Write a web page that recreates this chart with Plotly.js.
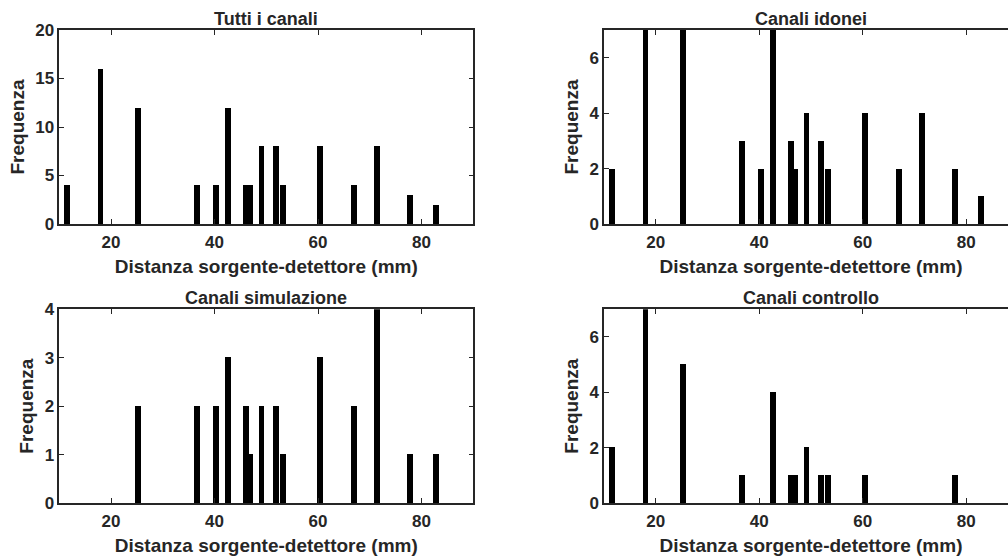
<!DOCTYPE html>
<html>
<head>
<meta charset="utf-8">
<script src="https://cdn.plot.ly/plotly-3.0.1.min.js"></script>
<style>
html, body { margin: 0; padding: 0; background: #fff; overflow: hidden; width: 1008px; height: 560px; }
#chart { width: 1030px; height: 560px; }
</style>
</head>
<body>
<div id="chart"></div>
<script>
// Distanze sorgente-detettore (mm) - centri dei bin
const distanze = [11.5, 18.0, 25.2, 36.6, 40.3, 42.6, 46.1, 47.0, 49.1, 51.9, 53.3, 60.4, 67.0, 71.5, 77.8, 82.8];
// Frequenze
const tutti       = [4, 16, 12, 4, 4, 12, 4, 4, 8, 8, 4, 8, 4, 8, 3, 2];
const idonei      = [2, 8, 7, 3, 2, 7, 3, 2, 4, 3, 2, 4, 2, 4, 2, 1];
const simulazione = [0, 0, 2, 2, 2, 3, 2, 1, 2, 2, 1, 3, 2, 4, 1, 1];
const controllo   = [2, 8, 5, 1, 0, 4, 1, 1, 2, 1, 1, 1, 0, 0, 1, 0];

const titoli = ["Tutti i canali", "Canali idonei", "Canali simulazione", "Canali controllo"];
const serie = [tutti, idonei, simulazione, controllo];
const yMax = [20, 7, 4, 7];
const yDtick = [5, 2, 1, 2];
const xTicks = [20, 40, 60, 80];

const W = 1030, H = 560;
const ink = "#262626";
const fam = "Liberation Sans, Arial, Helvetica, sans-serif";

// plot-area pixel boxes [x0, x1, y0(top), y1(bottom)]
const boxes = [
  [59.3, 473.3, 30, 224],
  [604, 1018, 30, 224],
  [59.3, 473.3, 309.3, 503],
  [604, 1018, 309.3, 503]
];

const data = [];
const layout = {
  width: W, height: H,
  margin: {l: 0, r: 0, t: 0, b: 0},
  paper_bgcolor: "#fff", plot_bgcolor: "#fff",
  showlegend: false,
  bargap: 0,
  font: {family: fam, color: ink, size: 17, weight: "bold"},
  annotations: []
};

serie.forEach((vals, i) => {
  const n = i + 1;
  const xa = n === 1 ? "x" : "x" + n;
  const ya = n === 1 ? "y" : "y" + n;
  data.push({
    type: "bar",
    x: distanze,
    y: vals,
    width: 1.1,
    xaxis: xa, yaxis: ya,
    marker: {color: "#000", line: {width: 0}},
    hoverinfo: "x+y"
  });
  const b = boxes[i];
  const axCommon = {
    showline: true, linecolor: ink, linewidth: 1.5, mirror: "ticks",
    ticks: "inside", ticklen: 5, tickwidth: 1.2, tickcolor: ink,
    showgrid: false, zeroline: false,
    tickfont: {family: fam, size: 17, color: ink, weight: "bold"}
  };
  layout["xaxis" + (n === 1 ? "" : n)] = Object.assign({}, axCommon, {
    domain: [b[0] / W, b[1] / W],
    anchor: ya,
    range: [10, 90],
    tickvals: xTicks,
    ticktext: xTicks.map(String),
    ticklabelstandoff: 2,
    title: {text: "Distanza sorgente-detettore (mm)", font: {family: fam, size: 19, color: ink, weight: "bold"}, standoff: 9}
  });
  layout["yaxis" + (n === 1 ? "" : n)] = Object.assign({}, axCommon, {
    domain: [1 - b[3] / H, 1 - b[2] / H],
    anchor: xa,
    range: [0, yMax[i]],
    dtick: yDtick[i],
    tick0: 0,
    title: {text: "Frequenza", font: {family: fam, size: 19, color: ink, weight: "bold"}, standoff: 6}
  });
  layout.annotations.push({
    text: titoli[i],
    xref: "paper", yref: "paper",
    x: (b[0] + b[1]) / 2 / W,
    y: 1 - b[2] / H,
    xanchor: "center", yanchor: "bottom",
    yshift: -1,
    showarrow: false,
    font: {family: fam, size: 18, color: ink, weight: "bold"}
  });
});

Plotly.newPlot("chart", data, layout, {displayModeBar: false});
</script>
</body>
</html>
